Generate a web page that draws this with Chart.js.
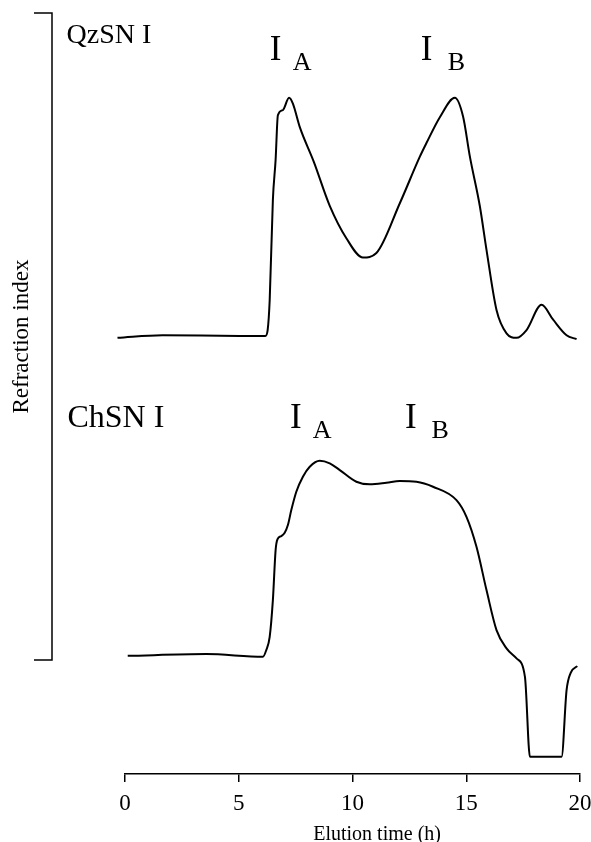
<!DOCTYPE html>
<html>
<head>
<meta charset="utf-8">
<script src="https://cdn.jsdelivr.net/npm/chart.js@4/dist/chart.umd.min.js"></script>
<style>
  html, body { margin: 0; padding: 0; background: #fff; overflow: hidden; }
  #wrap { width: 591px; height: 842px; position: relative; }
</style>
</head>
<body>
<div id="wrap"><canvas id="c" width="591" height="842"></canvas></div>
<script>
// ---- Data (elution time in h, refraction-index signal in arbitrary units) ----
const qzTime   = [-0.33, 1.65, 5.04, 6.17, 6.27, 6.36, 6.50, 6.62, 6.72, 6.94, 7.21, 7.38, 7.68, 8.30, 9.00, 9.73, 10.46, 11.05, 12.08, 12.96, 13.25, 13.84, 14.50, 14.86, 15.16, 15.60, 15.89, 16.33, 16.77, 17.21, 17.65, 18.31, 18.82, 19.41, 19.85];
const qzSignal = [49.8, 50.2, 50.1, 50.1, 51.0, 55.6, 71.1, 77.3, 84.2, 85.0, 86.9, 86.0, 82.4, 77.0, 70.2, 65.2, 62.2, 62.9, 70.6, 77.8, 79.9, 83.9, 86.9, 84.0, 77.8, 70.1, 63.4, 54.1, 50.5, 49.8, 51.0, 54.9, 52.6, 50.2, 49.6];

const chTime   = [0.12, 3.57, 6.06, 6.21, 6.36, 6.50, 6.62, 6.70, 6.87, 7.02, 7.16, 7.31, 7.53, 7.82, 8.12, 8.56, 9.00, 9.44, 10.17, 10.76, 11.49, 12.08, 12.81, 13.54, 14.57, 15.01, 15.45, 15.89, 16.33, 16.77, 17.21, 17.58, 17.80, 19.19, 19.41, 19.59, 19.88];
const chSignal = [0.66, 0.93, 0.51, 1.55, 3.60, 9.27, 17.0, 18.66, 19.17, 19.68, 20.87, 23.18, 26.01, 28.33, 29.88, 30.80, 30.40, 29.37, 27.56, 27.16, 27.40, 27.67, 27.56, 26.79, 24.73, 22.15, 17.51, 10.82, 4.64, 1.81, 0.26, -2.58, -14.95, -14.95, -4.64, -1.96, -0.93];

const xTicks = [0, 5, 10, 15, 20];
const bracketRange = [0, 100];
const xTitle = 'Elution time (h)';
const yTitle = 'Refraction index';

const SERIF = "'Liberation Serif', 'Times New Roman', serif";

function toPoints(xs, ys) { return xs.map((x, i) => ({ x: x, y: ys[i] })); }

// text annotations placed in data coordinates
const notes = [
  { text: 'QzSN I', x: -2.57, y: 95.4, size: 28 },
  { text: 'I', x: 6.36, y: 92.7, size: 35 },
  { text: 'A', x: 7.37, y: 91.2, size: 26 },
  { text: 'I', x: 13.0, y: 92.7, size: 35 },
  { text: 'B', x: 14.19, y: 91.2, size: 26 },
  { text: 'ChSN I', x: -2.53, y: 36.06, size: 32 },
  { text: 'I', x: 7.25, y: 35.8, size: 35 },
  { text: 'A', x: 8.25, y: 34.4, size: 26 },
  { text: 'I', x: 12.31, y: 35.8, size: 35 },
  { text: 'B', x: 13.47, y: 34.4, size: 26 }
];

const overlay = {
  id: 'overlay',
  afterDraw(chart) {
    const { ctx, chartArea, scales } = chart;
    const x = scales.x, y = scales.y;
    ctx.save();
    ctx.fillStyle = '#000';
    ctx.strokeStyle = '#000';
    ctx.lineWidth = 1.5;
    // bracket (y axis extent)
    const bx = chartArea.left - 73;
    const yt = y.getPixelForValue(bracketRange[1]);
    const yb = y.getPixelForValue(bracketRange[0]);
    ctx.beginPath();
    ctx.moveTo(bx - 18, yt); ctx.lineTo(bx, yt); ctx.lineTo(bx, yb); ctx.lineTo(bx - 18, yb);
    ctx.stroke();
    // y title, centred on bracket
    ctx.save();
    ctx.translate(bx - 30, (yt + yb) / 2);
    ctx.rotate(-Math.PI / 2);
    ctx.font = '23px ' + SERIF;
    ctx.textAlign = 'center';
    ctx.textBaseline = 'middle';
    ctx.fillText(yTitle, 0, 0);
    ctx.restore();
    // x title
    ctx.font = '20px ' + SERIF;
    ctx.textAlign = 'center';
    ctx.textBaseline = 'alphabetic';
    ctx.fillText(xTitle, x.getPixelForValue(11.08), chartArea.bottom + 66);
    // annotations
    ctx.textAlign = 'left';
    notes.forEach(n => {
      ctx.font = n.size + 'px ' + SERIF;
      ctx.fillText(n.text, x.getPixelForValue(n.x), y.getPixelForValue(n.y));
    });
    ctx.restore();
  }
};

new Chart(document.getElementById('c'), {
  type: 'line',
  data: {
    datasets: [
      { label: 'QzSN I', data: toPoints(qzTime, qzSignal), borderColor: '#000', borderWidth: 2,
        pointRadius: 0, cubicInterpolationMode: 'monotone', fill: false, clip: false },
      { label: 'ChSN I', data: toPoints(chTime, chSignal), borderColor: '#000', borderWidth: 2,
        pointRadius: 0, cubicInterpolationMode: 'monotone', fill: false, clip: false }
    ]
  },
  options: {
    responsive: false,
    animation: false,
    layout: { padding: { top: 13, right: 11, left: 0, bottom: 0 } },
    plugins: { legend: { display: false }, tooltip: { enabled: false } },
    scales: {
      x: {
        type: 'linear', min: 0, max: 20,
        afterBuildTicks: s => { s.ticks = xTicks.map(v => ({ value: v })); },
        afterFit: s => { s.height = 68; s.paddingLeft = 0; s.paddingRight = 0; },
        border: { display: true, color: '#000', width: 1.5 },
        grid: { display: true, drawOnChartArea: false, drawTicks: true, tickLength: 8, color: '#000', lineWidth: 1.5 },
        ticks: { color: '#000', font: { family: SERIF, size: 23 }, padding: 8, maxRotation: 0, autoSkip: false }
      },
      y: {
        type: 'linear', min: -17.6, max: 100,
        afterFit: s => { s.width = 125; },
        border: { display: false },
        grid: { display: false },
        ticks: { display: false }
      }
    }
  },
  plugins: [overlay]
});
</script>
</body>
</html>
